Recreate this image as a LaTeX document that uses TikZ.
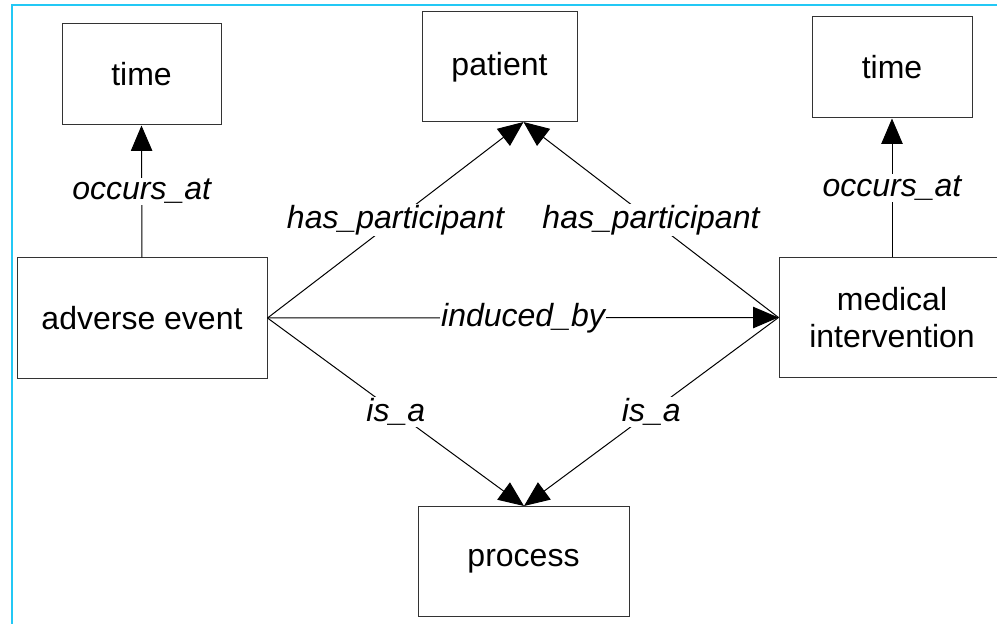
\documentclass[tikz,border=0pt]{standalone}
\usepackage{fontspec}
\setmainfont{Liberation Sans}
\usetikzlibrary{arrows.meta}
\definecolor{framecyan}{RGB}{35,200,245}
\tikzset{
  entity/.style={draw=black!80, line width=0.75pt, rectangle, inner sep=0pt, align=center, font=\fontsize{24}{28}\selectfont},
  rel/.style={fill=white, inner sep=1pt, font=\fontsize{24}{28}\selectfont\itshape},
  link/.style={line width=0.75pt, -{Triangle[length=19pt,width=16pt]}}
}

\begin{document}
\begin{tikzpicture}[x=0.75pt,y=0.75pt,yscale=-1,xscale=1]
\useasboundingbox (0,0) rectangle (997,624);

% frame
\draw [framecyan, line width=1.5pt] (11.5,624) -- (11.5,5.5) -- (997,5.5);

% entities
\node [entity, minimum width=119.25pt, minimum height=75.75pt] (timeL) at (141.5,74.5) {time};
\node [entity, minimum width=116.25pt, minimum height=82.5pt] (patient) at (499.5,67) {patient};
\node [entity, minimum width=120pt, minimum height=75.75pt] (timeR) at (892,67.5) {time};
\node [entity, minimum width=187.5pt, minimum height=90pt] (aevent) at (142,318) {adverse event};
\node [entity, minimum width=169.5pt, minimum height=89.25pt] (medint) at (892,317.5) {medical\\intervention};
\node [entity, minimum width=158.25pt, minimum height=82.5pt] (process) at (523.5,561) {process};

% tips meeting on patient and process
\coordinate (ptip) at (523.5,122);
\coordinate (qtip) at (524,506);

% relations
\draw [link] (aevent.north) -- node [rel] {occurs\_at} (timeL.south);
\draw [link] (medint.north) -- node [rel] {occurs\_at} (timeR.south);
\draw [link] (aevent.east) -- node [rel] {has\_participant} (ptip);
\draw [link] (medint.west) -- node [rel] {has\_participant} (ptip);
\draw [link] (aevent.east) -- node [rel] {induced\_by} (medint.west);
\draw [link] (aevent.east) -- node [rel] {is\_a} (qtip);
\draw [link] (medint.west) -- node [rel] {is\_a} (qtip);

\end{tikzpicture}
\end{document}
